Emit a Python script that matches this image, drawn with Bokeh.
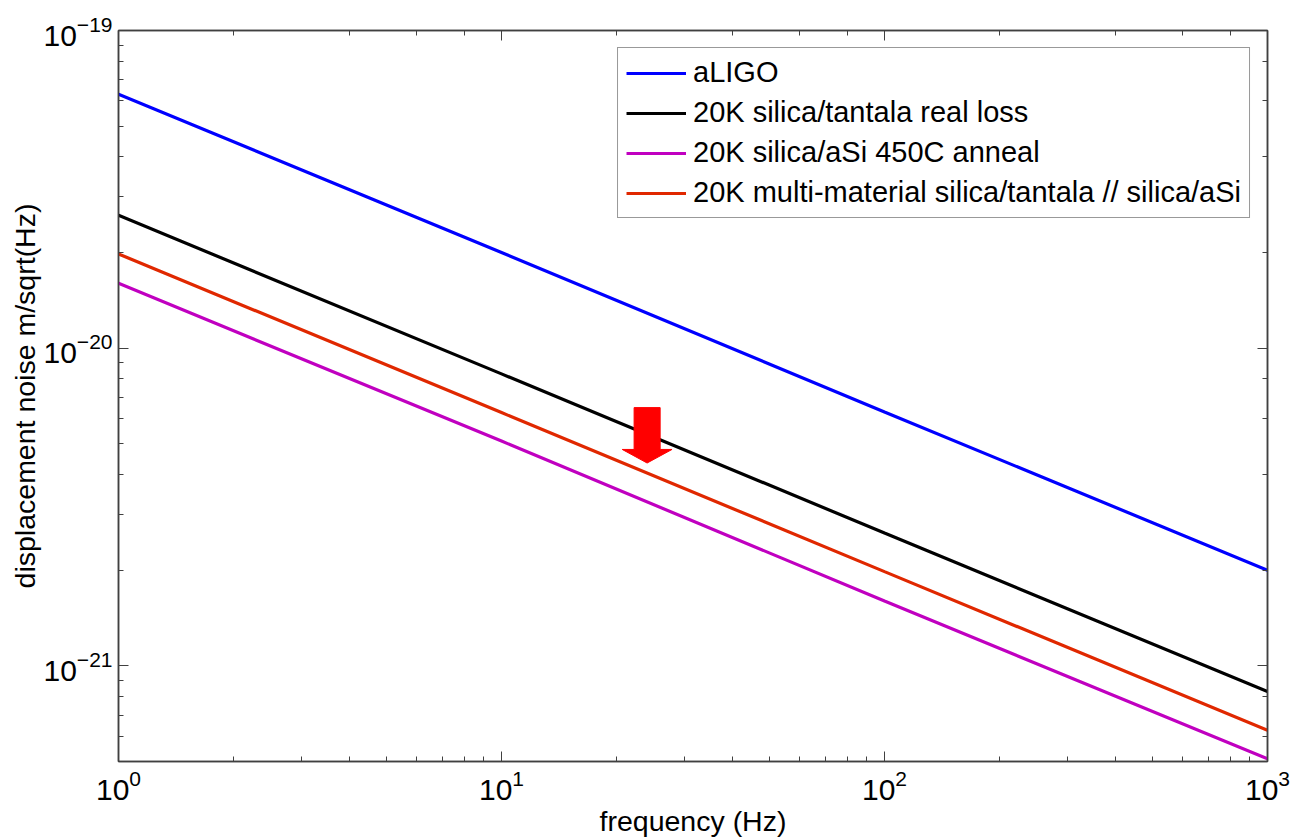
import numpy as np
from bokeh.plotting import figure
from bokeh.models import LogAxis, Legend, LegendItem, Range1d, CustomJSTickFormatter
from bokeh.embed import file_html
from bokeh.resources import INLINE

# ---- data ----
freq = [1, 10, 100, 1000]
aligo = [6.3e-20, 2.0e-20, 6.3e-21, 2.0e-21]
silica_tantala = [2.62e-20, 8.3e-21, 2.62e-21, 8.3e-22]
silica_asi = [1.6e-20, 5.1e-21, 1.6e-21, 5.1e-22]
multi_material = [1.98e-20, 6.27e-21, 1.98e-21, 6.27e-22]

series_names = ["aLIGO",
                "20K silica/tantala real loss",
                "20K silica/aSi 450C anneal",
                "20K multi-material silica/tantala // silica/aSi"]
series_values = [aligo, silica_tantala, silica_asi, multi_material]
series_colors = ["#0000FF", "#000000", "#C000C0", "#E02800"]

# arrow annotation (data position)
arrow_freq = 24.0
arrow_top = 6.5e-21
arrow_head_base = 4.8e-21
arrow_tip = 4.35e-21

FONT = "Liberation Sans"
AX = "#404040"

p = figure(width=1295, height=839, x_axis_type="log", y_axis_type="log",
           x_range=Range1d(1, 1000), y_range=Range1d(5e-22, 1e-19),
           output_backend="svg", toolbar_location=None,
           min_border_left=118, min_border_right=28,
           min_border_top=30, min_border_bottom=78)
p.xgrid.visible = False
p.ygrid.visible = False
p.outline_line_color = AX
p.outline_line_width = 1.5
p.background_fill_color = "white"
p.border_fill_color = "white"

renderers = []
for vals, col in zip(series_values, series_colors):
    r = p.line(freq, vals, line_color=col, line_width=3.2)
    renderers.append(r)

# red arrow
sw, hw = 0.034, 0.065
ax_x = [arrow_freq * 10 ** d for d in (-sw, sw, sw, hw, 0.0, -hw, -sw)]
ax_y = [arrow_top, arrow_top, arrow_head_base, arrow_head_base, arrow_tip,
        arrow_head_base, arrow_head_base]
p.patch(ax_x, ax_y, fill_color="#FF0000", line_color="#FF0000", line_width=1)

for ax in [p.xaxis[0], p.yaxis[0]]:
    ax.axis_line_color = AX
    ax.axis_line_width = 1.5
    ax.major_tick_line_color = AX
    ax.minor_tick_line_color = AX
    ax.major_tick_in = 10
    ax.major_tick_out = 0
    ax.minor_tick_in = 5
    ax.minor_tick_out = 0
    ax.major_label_text_font = FONT
    ax.major_label_text_font_size = "30px"
    ax.major_label_text_color = "black"
    ax.axis_label_text_font = FONT
    ax.axis_label_text_font_size = "28.5px"
    ax.axis_label_text_font_style = "normal"
    ax.axis_label_text_color = "black"

p.xaxis.axis_label = "frequency (Hz)"
p.yaxis.axis_label = "displacement noise m/sqrt(Hz)"
p.xaxis.major_label_standoff = 8
p.yaxis.major_label_standoff = 6
p.xaxis.axis_label_standoff = 2
p.yaxis.axis_label_standoff = 0

for loc in ("right", "above"):
    a = LogAxis(formatter=CustomJSTickFormatter(code="return ''"))
    a.axis_line_color = AX
    a.axis_line_width = 1.5
    a.major_tick_line_color = AX
    a.minor_tick_line_color = AX
    a.major_tick_in = 10
    a.major_tick_out = 0
    a.minor_tick_in = 5
    a.minor_tick_out = 0
    a.major_label_standoff = 0
    a.major_label_text_font_size = "1px"
    p.add_layout(a, loc)

legend = Legend(items=[LegendItem(label=n, renderers=[r]) for n, r in zip(series_names, renderers)],
                location="top_right")
legend.margin = 17
legend.padding = 8
legend.spacing = 7
legend.label_height = 30
legend.glyph_height = 30
legend.glyph_width = 60
legend.label_standoff = 7
legend.label_text_font = FONT
legend.label_text_font_size = "29px"
legend.label_text_color = "black"
legend.border_line_color = "#333333"
legend.border_line_width = 1.5
legend.background_fill_alpha = 1.0
p.add_layout(legend)

open("out.html", "w").write(file_html(p, INLINE))
